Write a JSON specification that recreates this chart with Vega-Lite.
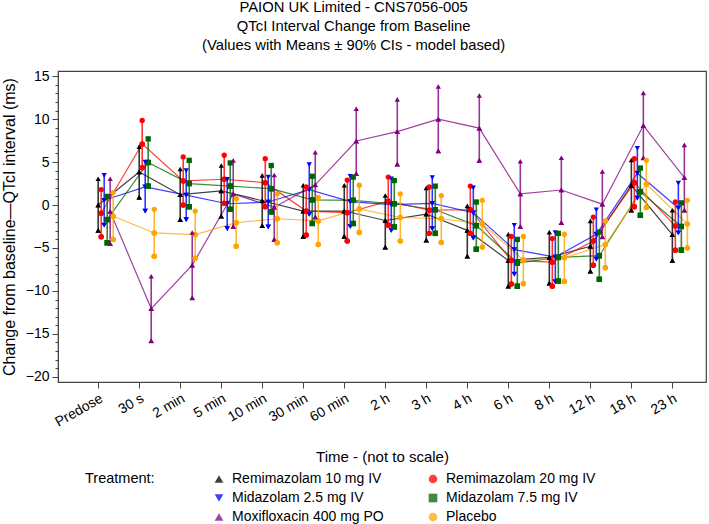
{
  "$schema": "https://vega.github.io/schema/vega-lite/v6.json",
  "autosize": {"type": "none"},
  "width": 648,
  "height": 311,
  "padding": {"left": 58, "top": 71, "right": 3, "bottom": 142},
  "background": "white",
  "title": {
    "text": ["PAION UK Limited - CNS7056-005", "QTcI Interval Change from Baseline", "(Values with Means ± 90% CIs - model based)"],
    "font": "Liberation Sans",
    "fontSize": 14.8,
    "fontWeight": "normal",
    "lineHeight": 19,
    "anchor": "middle",
    "frame": "bounds",
    "offset": 16,
    "color": "#000"
  },
  "config": {
    "font": "Liberation Sans",
    "view": {"stroke": "#444", "strokeWidth": 1.2},
    "axis": {"labelFont": "Liberation Sans", "titleFont": "Liberation Sans", "labelColor": "#000", "titleColor": "#000", "domainColor": "#444", "tickColor": "#444", "grid": false, "titleFontWeight": "normal"}
  },
  "resolve": {"axis": {"y": "independent"}},
  "datasets": {
    "qt": [
      {"time": "Predose", "treatment": "Remimazolam 10 mg IV", "mean": 0, "lo": -2.95, "hi": 3.05},
      {"time": "Predose", "treatment": "Remimazolam 20 mg IV", "mean": -0.95, "lo": -3.7, "hi": 1.8},
      {"time": "Predose", "treatment": "Midazolam 2.5 mg IV", "mean": 0.55, "lo": -2.35, "hi": 3.45},
      {"time": "Predose", "treatment": "Midazolam 7.5 mg IV", "mean": -1.7, "lo": -4.4, "hi": 1.0},
      {"time": "Predose", "treatment": "Moxifloxacin 400 mg PO", "mean": -0.75, "lo": -4.5, "hi": 3.05},
      {"time": "Predose", "treatment": "Placebo", "mean": -1.3, "lo": -4.0, "hi": 1.45},
      {"time": "30 s", "treatment": "Remimazolam 10 mg IV", "mean": 3.85, "lo": 0.9, "hi": 6.8},
      {"time": "30 s", "treatment": "Remimazolam 20 mg IV", "mean": 7.1, "lo": 4.35, "hi": 9.85},
      {"time": "30 s", "treatment": "Midazolam 2.5 mg IV", "mean": 2.1, "lo": -0.7, "hi": 5.0},
      {"time": "30 s", "treatment": "Midazolam 7.5 mg IV", "mean": 4.95, "lo": 2.2, "hi": 7.7},
      {"time": "30 s", "treatment": "Moxifloxacin 400 mg PO", "mean": -12.05, "lo": -15.8, "hi": -8.3},
      {"time": "30 s", "treatment": "Placebo", "mean": -3.25, "lo": -5.95, "hi": -0.5},
      {"time": "2 min", "treatment": "Remimazolam 10 mg IV", "mean": 1.2, "lo": -1.7, "hi": 4.2},
      {"time": "2 min", "treatment": "Remimazolam 20 mg IV", "mean": 2.8, "lo": 0.0, "hi": 5.6},
      {"time": "2 min", "treatment": "Midazolam 2.5 mg IV", "mean": 1.15, "lo": -1.7, "hi": 4.0},
      {"time": "2 min", "treatment": "Midazolam 7.5 mg IV", "mean": 2.5, "lo": -0.2, "hi": 5.2},
      {"time": "2 min", "treatment": "Moxifloxacin 400 mg PO", "mean": -7.0, "lo": -10.8, "hi": -3.2},
      {"time": "2 min", "treatment": "Placebo", "mean": -3.45, "lo": -6.2, "hi": -0.7},
      {"time": "5 min", "treatment": "Remimazolam 10 mg IV", "mean": 1.65, "lo": -1.3, "hi": 4.6},
      {"time": "5 min", "treatment": "Remimazolam 20 mg IV", "mean": 3.0, "lo": 0.2, "hi": 5.8},
      {"time": "5 min", "treatment": "Midazolam 2.5 mg IV", "mean": 0.15, "lo": -2.75, "hi": 3.0},
      {"time": "5 min", "treatment": "Midazolam 7.5 mg IV", "mean": 2.2, "lo": -0.5, "hi": 4.9},
      {"time": "5 min", "treatment": "Moxifloxacin 400 mg PO", "mean": 1.3, "lo": -2.5, "hi": 5.2},
      {"time": "5 min", "treatment": "Placebo", "mean": -2.05, "lo": -4.8, "hi": 0.75},
      {"time": "10 min", "treatment": "Remimazolam 10 mg IV", "mean": 0.5, "lo": -2.4, "hi": 3.45},
      {"time": "10 min", "treatment": "Remimazolam 20 mg IV", "mean": 2.6, "lo": -0.2, "hi": 5.4},
      {"time": "10 min", "treatment": "Midazolam 2.5 mg IV", "mean": 0.35, "lo": -2.55, "hi": 3.25},
      {"time": "10 min", "treatment": "Midazolam 7.5 mg IV", "mean": 1.9, "lo": -0.8, "hi": 4.6},
      {"time": "10 min", "treatment": "Moxifloxacin 400 mg PO", "mean": -0.25, "lo": -4.0, "hi": 3.5},
      {"time": "10 min", "treatment": "Placebo", "mean": -1.6, "lo": -4.4, "hi": 1.3},
      {"time": "30 min", "treatment": "Remimazolam 10 mg IV", "mean": -0.7, "lo": -3.65, "hi": 2.3},
      {"time": "30 min", "treatment": "Remimazolam 20 mg IV", "mean": -0.7, "lo": -3.5, "hi": 2.1},
      {"time": "30 min", "treatment": "Midazolam 2.5 mg IV", "mean": 1.8, "lo": -1.1, "hi": 4.7},
      {"time": "30 min", "treatment": "Midazolam 7.5 mg IV", "mean": 0.6, "lo": -2.15, "hi": 3.35},
      {"time": "30 min", "treatment": "Moxifloxacin 400 mg PO", "mean": 2.35, "lo": -1.4, "hi": 6.15},
      {"time": "30 min", "treatment": "Placebo", "mean": -1.85, "lo": -4.6, "hi": 0.9},
      {"time": "60 min", "treatment": "Remimazolam 10 mg IV", "mean": -0.7, "lo": -3.65, "hi": 2.3},
      {"time": "60 min", "treatment": "Remimazolam 20 mg IV", "mean": -0.9, "lo": -4.2, "hi": 2.9},
      {"time": "60 min", "treatment": "Midazolam 2.5 mg IV", "mean": 0.4, "lo": -2.5, "hi": 3.35},
      {"time": "60 min", "treatment": "Midazolam 7.5 mg IV", "mean": 0.55, "lo": -2.15, "hi": 3.25},
      {"time": "60 min", "treatment": "Moxifloxacin 400 mg PO", "mean": 7.45, "lo": 3.65, "hi": 11.2},
      {"time": "60 min", "treatment": "Placebo", "mean": -0.45, "lo": -3.2, "hi": 2.3},
      {"time": "2 h", "treatment": "Remimazolam 10 mg IV", "mean": -1.8, "lo": -4.9, "hi": 1.1},
      {"time": "2 h", "treatment": "Remimazolam 20 mg IV", "mean": 0.45, "lo": -2.35, "hi": 3.25},
      {"time": "2 h", "treatment": "Midazolam 2.5 mg IV", "mean": 0.05, "lo": -2.95, "hi": 3.05},
      {"time": "2 h", "treatment": "Midazolam 7.5 mg IV", "mean": 0.15, "lo": -2.55, "hi": 2.85},
      {"time": "2 h", "treatment": "Moxifloxacin 400 mg PO", "mean": 8.55, "lo": 4.75, "hi": 12.3},
      {"time": "2 h", "treatment": "Placebo", "mean": -1.45, "lo": -4.2, "hi": 1.3},
      {"time": "3 h", "treatment": "Remimazolam 10 mg IV", "mean": -1.05, "lo": -4.1, "hi": 2.0},
      {"time": "3 h", "treatment": "Remimazolam 20 mg IV", "mean": -0.6, "lo": -3.3, "hi": 2.1},
      {"time": "3 h", "treatment": "Midazolam 2.5 mg IV", "mean": 0.2, "lo": -2.75, "hi": 3.2},
      {"time": "3 h", "treatment": "Midazolam 7.5 mg IV", "mean": -0.55, "lo": -3.3, "hi": 2.2},
      {"time": "3 h", "treatment": "Moxifloxacin 400 mg PO", "mean": 10.0, "lo": 6.3, "hi": 13.8},
      {"time": "3 h", "treatment": "Placebo", "mean": -1.6, "lo": -4.35, "hi": 1.1},
      {"time": "4 h", "treatment": "Remimazolam 10 mg IV", "mean": -2.95, "lo": -5.95, "hi": -0.1},
      {"time": "4 h", "treatment": "Remimazolam 20 mg IV", "mean": -0.55, "lo": -3.3, "hi": 2.2},
      {"time": "4 h", "treatment": "Midazolam 2.5 mg IV", "mean": -0.9, "lo": -3.85, "hi": 2.0},
      {"time": "4 h", "treatment": "Midazolam 7.5 mg IV", "mean": -2.4, "lo": -5.15, "hi": 0.35},
      {"time": "4 h", "treatment": "Moxifloxacin 400 mg PO", "mean": 8.95, "lo": 5.2, "hi": 12.75},
      {"time": "4 h", "treatment": "Placebo", "mean": -2.2, "lo": -4.9, "hi": 0.55},
      {"time": "6 h", "treatment": "Remimazolam 10 mg IV", "mean": -6.45, "lo": -9.45, "hi": -3.4},
      {"time": "6 h", "treatment": "Remimazolam 20 mg IV", "mean": -6.45, "lo": -9.2, "hi": -3.65},
      {"time": "6 h", "treatment": "Midazolam 2.5 mg IV", "mean": -5.2, "lo": -8.05, "hi": -2.35},
      {"time": "6 h", "treatment": "Midazolam 7.5 mg IV", "mean": -6.75, "lo": -9.45, "hi": -4.0},
      {"time": "6 h", "treatment": "Moxifloxacin 400 mg PO", "mean": 1.3, "lo": -2.5, "hi": 5.1},
      {"time": "6 h", "treatment": "Placebo", "mean": -6.4, "lo": -9.15, "hi": -3.65},
      {"time": "8 h", "treatment": "Remimazolam 10 mg IV", "mean": -6.1, "lo": -9.1, "hi": -3.15},
      {"time": "8 h", "treatment": "Remimazolam 20 mg IV", "mean": -6.65, "lo": -9.45, "hi": -3.9},
      {"time": "8 h", "treatment": "Midazolam 2.5 mg IV", "mean": -6.05, "lo": -8.95, "hi": -3.2},
      {"time": "8 h", "treatment": "Midazolam 7.5 mg IV", "mean": -6.1, "lo": -8.85, "hi": -3.3},
      {"time": "8 h", "treatment": "Moxifloxacin 400 mg PO", "mean": 1.75, "lo": -2.05, "hi": 5.5},
      {"time": "8 h", "treatment": "Placebo", "mean": -6.15, "lo": -8.9, "hi": -3.4},
      {"time": "12 h", "treatment": "Remimazolam 10 mg IV", "mean": -4.8, "lo": -7.7, "hi": -1.85},
      {"time": "12 h", "treatment": "Remimazolam 20 mg IV", "mean": -4.2, "lo": -7.0, "hi": -1.4},
      {"time": "12 h", "treatment": "Midazolam 2.5 mg IV", "mean": -3.4, "lo": -6.3, "hi": -0.55},
      {"time": "12 h", "treatment": "Midazolam 7.5 mg IV", "mean": -5.9, "lo": -8.65, "hi": -3.15},
      {"time": "12 h", "treatment": "Moxifloxacin 400 mg PO", "mean": 0.1, "lo": -3.7, "hi": 3.9},
      {"time": "12 h", "treatment": "Placebo", "mean": -4.6, "lo": -7.3, "hi": -1.85},
      {"time": "18 h", "treatment": "Remimazolam 10 mg IV", "mean": 2.3, "lo": -0.6, "hi": 5.25},
      {"time": "18 h", "treatment": "Remimazolam 20 mg IV", "mean": 2.6, "lo": -0.2, "hi": 5.4},
      {"time": "18 h", "treatment": "Midazolam 2.5 mg IV", "mean": 3.7, "lo": 0.8, "hi": 6.6},
      {"time": "18 h", "treatment": "Midazolam 7.5 mg IV", "mean": 1.55, "lo": -1.2, "hi": 4.3},
      {"time": "18 h", "treatment": "Moxifloxacin 400 mg PO", "mean": 9.25, "lo": 5.5, "hi": 13.05},
      {"time": "18 h", "treatment": "Placebo", "mean": 2.45, "lo": -0.3, "hi": 5.2},
      {"time": "23 h", "treatment": "Remimazolam 10 mg IV", "mean": -3.45, "lo": -6.45, "hi": -0.6},
      {"time": "23 h", "treatment": "Remimazolam 20 mg IV", "mean": -2.45, "lo": -5.25, "hi": 0.35},
      {"time": "23 h", "treatment": "Midazolam 2.5 mg IV", "mean": -0.35, "lo": -3.25, "hi": 2.55},
      {"time": "23 h", "treatment": "Midazolam 7.5 mg IV", "mean": -2.5, "lo": -5.25, "hi": 0.25},
      {"time": "23 h", "treatment": "Moxifloxacin 400 mg PO", "mean": 3.2, "lo": -0.6, "hi": 7.0},
      {"time": "23 h", "treatment": "Placebo", "mean": -2.2, "lo": -5.0, "hi": 0.55}
    ]
  },
  "data": {"name": "qt"},
  "encoding": {
    "x": {
      "field": "time", "type": "nominal",
      "sort": ["Predose", "30 s", "2 min", "5 min", "10 min", "30 min", "60 min", "2 h", "3 h", "4 h", "6 h", "8 h", "12 h", "18 h", "23 h"],
      "scale": {"type": "band", "paddingInner": 0, "paddingOuter": 0.4, "align": 0.6},
      "axis": {"title": "Time - (not to scale)", "titleFontSize": 15, "titlePadding": 20, "labelAngle": -30, "labelAlign": "right", "labelBaseline": "top", "labelFontSize": 14, "labelPadding": 3, "tickSize": 6, "labelBound": false}
    },
    "xOffset": {
      "field": "treatment", "type": "nominal",
      "scale": {"type": "band", "domain": ["Remimazolam 10 mg IV", "Remimazolam 20 mg IV", "Midazolam 2.5 mg IV", "Midazolam 7.5 mg IV", "Moxifloxacin 400 mg PO", "Placebo"], "range": [19, 37], "paddingInner": 0, "paddingOuter": 0}
    },
    "color": {
      "field": "treatment", "type": "nominal",
      "scale": {"domain": ["Remimazolam 10 mg IV", "Remimazolam 20 mg IV", "Midazolam 2.5 mg IV", "Midazolam 7.5 mg IV", "Moxifloxacin 400 mg PO", "Placebo"], "range": ["#000000", "#FF0000", "#0000FF", "#006400", "#800080", "#FFA500"]},
      "legend": {
        "orient": "none", "legendX": 27, "legendY": 401,
        "direction": "horizontal", "columns": 2,
        "title": "Treatment:", "titleOrient": "left", "titleAnchor": "start", "titleFontSize": 14.5, "titleFontWeight": "normal", "titleColor": "#000", "titlePadding": 57, "titleBaseline": "top",
        "labelFontSize": 14, "labelColor": "#000", "labelLimit": 300, "labelOffset": 6,
        "symbolSize": 75, "symbolStrokeWidth": 0, "columnPadding": 42, "rowPadding": 5
      }
    },
    "shape": {
      "field": "treatment", "type": "nominal",
      "scale": {"domain": ["Remimazolam 10 mg IV", "Remimazolam 20 mg IV", "Midazolam 2.5 mg IV", "Midazolam 7.5 mg IV", "Moxifloxacin 400 mg PO", "Placebo"], "range": ["triangle-up", "circle", "triangle-down", "square", "triangle-up", "circle"]}
    }
  },
  "layer": [
    {
      "mark": {"type": "line", "strokeWidth": 1.2, "opacity": 0.75},
      "encoding": {
        "y": {"field": "mean", "type": "quantitative",
          "scale": {"domain": [-20.6, 15.6], "nice": false, "zero": false},
          "axis": {
            "orient": "left",
            "title": "Change from baseline\u2014QTcI interval (ms)", "titleFontSize": 16, "titlePadding": 8,
            "values": [-20, -15, -10, -5, 0, 5, 10, 15],
            "labelOverlap": false, "labelFontSize": 14, "labelPadding": 3,
            "tickSize": 6
          }
        }
      }
    },
    {
      "mark": {"type": "rule", "strokeWidth": 1.6, "opacity": 0.8},
      "encoding": {
        "y": {"field": "lo", "type": "quantitative",
          "axis": {
            "orient": "left", "title": null, "labels": false, "domain": false, "tickSize": 3,
            "values": [-19, -18, -17, -16, -14, -13, -12, -11, -9, -8, -7, -6, -4, -3, -2, -1, 1, 2, 3, 4, 6, 7, 8, 9, 11, 12, 13, 14]
          }
        },
        "y2": {"field": "hi"}
      }
    },
    {
      "mark": {"type": "point", "filled": true, "size": 28, "opacity": 1},
      "encoding": {"y": {"field": "mean", "type": "quantitative", "axis": null}}
    },
    {
      "mark": {"type": "point", "filled": true, "size": 28, "opacity": 1},
      "encoding": {"y": {"field": "lo", "type": "quantitative", "axis": null}}
    },
    {
      "mark": {"type": "point", "filled": true, "size": 28, "opacity": 1},
      "encoding": {"y": {"field": "hi", "type": "quantitative", "axis": null}}
    }
  ]
}
